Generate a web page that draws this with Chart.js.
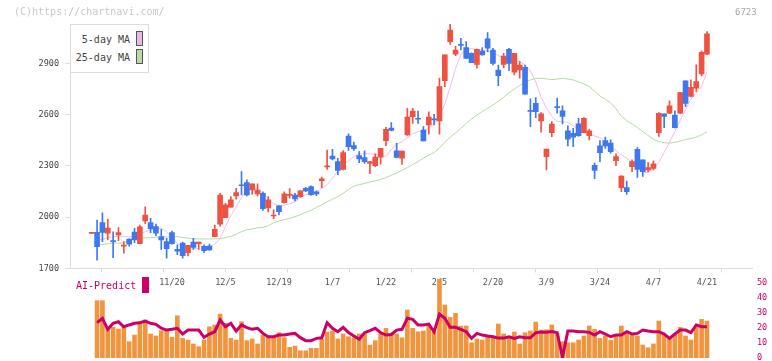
<!DOCTYPE html>
<html>
<head>
<meta charset="utf-8">
<script src="https://cdn.jsdelivr.net/npm/chart.js@4.4.1/dist/chart.umd.min.js"></script>
<style>
  body { margin: 0; background: #fff; width: 772px; height: 361px; position: relative; overflow: hidden; font-family: 'DejaVu Sans Mono', monospace; }
  canvas { position: absolute; left: 0; }
  #main { top: 0; }
  #sub { top: 270px; }
  .txt { position: absolute; white-space: nowrap; }
  .copy { left: 14px; top: 7px; font-size: 10px; line-height: 10px; color: #c8c8c8; }
  .code { left: 735px; top: 7px; font-size: 9px; line-height: 10px; color: #a8a8a8; }
  .legend { position: absolute; left: 70px; top: 24px; width: 77px; height: 47px; border: 1px solid #ddd; background: #fff; }
  .lg-t { position: absolute; right: 18px; font-size: 10px; line-height: 10px; color: #444; }
  .lg-b { position: absolute; left: 65px; width: 5px; height: 13px; border: 1px solid #555; }
  .ai { left: 76px; top: 281px; font-size: 10px; line-height: 10px; color: #cc0066; }
  .ai-box { position: absolute; left: 142px; top: 277px; width: 7px; height: 16px; background: #cc0066; }
</style>
</head>
<body>
<canvas id="main" width="772" height="300"></canvas>
<canvas id="sub" width="772" height="91"></canvas>
<div class="txt copy">(C)https://chartnavi.com/</div>
<div class="txt code">6723</div>
<div class="legend">
  <div class="lg-t" style="top:10px">5-day MA</div>
  <div class="lg-b" style="top:6px;background:#eab6ea"></div>
  <div class="lg-t" style="top:28px">25-day MA</div>
  <div class="lg-b" style="top:24px;background:#b6dca6"></div>
</div>
<div class="txt ai">AI-Predict</div>
<div class="ai-box"></div>
<script>
// trading days shown on the chart
const dates = [
  '10/29','10/30','10/31','11/4','11/5','11/6','11/7','11/10','11/11','11/12',
  '11/13','11/14','11/17','11/18','11/19','11/20','11/21','11/25','11/26','11/27',
  '11/28','12/1','12/2','12/3','12/4','12/5','12/8','12/9','12/10','12/11',
  '12/12','12/15','12/16','12/17','12/18','12/19','12/22','12/23','12/24','12/25',
  '12/26','12/29','12/30','1/5','1/6','1/7','1/8','1/9','1/13','1/14',
  '1/15','1/16','1/19','1/20','1/21','1/22','1/23','1/26','1/27','1/28',
  '1/29','1/30','2/2','2/3','2/4','2/5','2/6','2/9','2/10','2/12',
  '2/13','2/16','2/17','2/18','2/19','2/20','2/24','2/25','2/26','2/27',
  '3/2','3/3','3/4','3/5','3/6','3/9','3/10','3/11','3/12','3/13',
  '3/16','3/17','3/18','3/19','3/23','3/24','3/25','3/26','3/27','3/30',
  '3/31','4/1','4/2','4/3','4/6','4/7','4/8','4/9','4/10','4/13',
  '4/14','4/15','4/16','4/17','4/20','4/21'
];
const labelDays = ['11/20','12/5','12/19','1/7','1/22','2/5','2/20','3/9','3/24','4/7','4/21'];
const priceTicks = [1700, 2000, 2300, 2600, 2900];
const aiTicks = [0, 10, 20, 30, 40, 50];

const openP = [
  1905,1911,1968,1906,1859,1896,1830,1872,1913,1845,
  1978,1968,1945,1886,1857,1910,1812,1849,1793,1855,
  1845,1830,1831,1886,1960,1997,2058,2124,2190,2202,
  2159,2136,2140,2054,2007,2066,2085,2128,2130,2120,
  2169,2179,2148,2214,2294,2358,2325,2280,2475,2419,
  2360,2349,2315,2302,2351,2448,2522,2388,2345,2481,
  2588,2577,2510,2540,2573,2563,2799,3027,2953,3011,
  2992,2959,2894,2972,3043,2978,2861,2894,2982,2848,
  2861,2877,2623,2666,2563,2354,2495,2645,2622,2505,
  2491,2546,2495,2477,2304,2417,2448,2433,2331,2173,
  2173,2296,2397,2335,2276,2286,2495,2604,2608,2598,
  2608,2797,2706,2754,2838,2953
];
const highP = [
  1910,1983,2026,1989,1915,1939,1857,1874,1935,1954,
  2060,1993,1960,1929,1876,1919,1838,1855,1836,1876,
  1855,1839,1843,1954,2140,2081,2120,2169,2267,2218,
  2195,2195,2148,2120,2043,2066,2148,2167,2140,2156,
  2175,2183,2154,2234,2393,2397,2345,2390,2487,2440,
  2384,2388,2327,2370,2403,2526,2553,2432,2387,2637,
  2637,2621,2530,2617,2602,2813,2949,3130,3000,3046,
  3027,2962,2984,2992,3080,2988,2890,2959,2988,2959,
  2910,2890,2692,2699,2612,2399,2559,2696,2651,2534,
  2520,2579,2583,2514,2316,2448,2468,2452,2370,2243,
  2212,2335,2407,2335,2319,2329,2612,2604,2680,2622,
  2731,2797,2803,2891,2973,3086
];
const lowP = [
  1905,1749,1857,1867,1763,1863,1789,1831,1851,1845,
  1962,1910,1892,1812,1760,1843,1781,1760,1773,1812,
  1812,1793,1806,1884,1948,1997,2058,2105,2130,2124,
  2134,2124,2039,2031,1992,2013,2082,2111,2095,2115,
  2150,2128,2126,2173,2280,2335,2249,2277,2390,2390,
  2319,2315,2255,2296,2310,2419,2505,2347,2309,2479,
  2549,2549,2446,2485,2540,2485,2764,3011,2945,2978,
  2929,2904,2871,2947,2968,2890,2770,2875,2857,2832,
  2813,2719,2530,2582,2497,2276,2471,2608,2546,2417,
  2413,2472,2493,2452,2226,2325,2403,2374,2302,2150,
  2134,2267,2232,2238,2267,2276,2472,2524,2606,2522,
  2606,2647,2704,2735,2826,2951
];
const closeP = [
  1910,1827,1911,1937,1857,1910,1837,1843,1867,1943,
  2013,1933,1906,1867,1816,1845,1802,1775,1836,1824,
  1855,1804,1808,1929,2130,2072,2101,2144,2184,2130,
  2195,2159,2050,2101,2013,2033,2136,2134,2107,2154,
  2154,2132,2136,2224,2300,2341,2273,2378,2413,2401,
  2341,2325,2325,2351,2403,2514,2507,2349,2387,2586,
  2621,2573,2446,2586,2569,2764,2949,3095,2978,3004,
  2929,2904,2982,2949,2988,2900,2828,2943,2900,2959,
  2890,2719,2619,2617,2604,2399,2545,2641,2589,2456,
  2468,2477,2579,2505,2273,2378,2417,2384,2355,2241,
  2150,2325,2280,2267,2290,2312,2608,2589,2651,2524,
  2729,2666,2760,2793,2965,3072
];
const ma5 = [
  null,1865,1870,1880,1886,1888,1888,1885,1890,1900,
  1915,1925,1932,1935,1915,1880,1847,1825,1816,1815,
  1818,1822,1828,1843,1875,1945,2010,2060,2115,2160,
  2170,2165,2140,2105,2080,2066,2070,2078,2090,2115,
  2132,2140,2150,2168,2190,2230,2270,2300,2330,2355,
  2370,2372,2370,2368,2365,2355,2395,2428,2440,2465,
  2490,2500,2505,2520,2545,2590,2660,2760,2870,2950,
  2985,2985,2980,2978,2972,2960,2945,2932,2920,2915,
  2910,2890,2855,2790,2700,2640,2590,2560,2558,2555,
  2535,2515,2500,2490,2475,2465,2440,2410,2390,2365,
  2345,2320,2300,2262,2262,2285,2320,2378,2440,2500,
  2565,2630,2690,2725,2765,2852
];
const ma25 = [
  null,1838,1840,1845,1849,1849,1849,1865,1879,1879,
  1879,1880,1883,1885,1885,1885,1885,1882,1878,1873,
  1873,1873,1873,1873,1874,1880,1888,1900,1915,1926,
  1932,1937,1941,1950,1968,1978,1986,1993,2003,2015,
  2028,2040,2058,2072,2090,2105,2120,2140,2162,2182,
  2190,2198,2206,2213,2220,2232,2245,2258,2275,2290,
  2308,2325,2345,2362,2378,2405,2438,2468,2493,2520,
  2548,2575,2598,2618,2637,2657,2678,2702,2728,2750,
  2770,2790,2803,2812,2812,2809,2805,2808,2813,2808,
  2803,2792,2780,2764,2738,2709,2690,2668,2635,2590,
  2565,2545,2525,2500,2478,2455,2443,2436,2433,2438,
  2445,2455,2460,2468,2482,2501
];
const volume = [
  null,38,38,19.7,20.3,19.2,20.3,10.8,15.2,24,
  25.2,15.9,14.6,18.1,19.2,13.7,28,13,11.9,9.3,
  7.5,11.9,20.7,21.9,29.1,23,13,11.9,24,11.5,
  12.6,9.3,15.2,13.7,13.7,16.8,13.4,7.1,7.9,4.8,
  4.8,6.4,6.4,12.4,17.2,17.9,12.6,15.9,14.1,13.4,
  15.9,15.9,8.6,11.5,15.9,19.7,16.3,15.9,13.4,31.8,
  19.7,17.4,17.9,21.9,17.4,52.3,35.1,26.9,29.6,21.2,
  21.2,10.1,12.6,11.9,14.6,14.6,22.5,15.9,13.4,17.2,
  9.3,16.8,17.9,23.8,18.5,18.7,21.9,16.3,10.8,10.1,
  10.1,11.9,14.6,21.2,19,13,14.6,11.9,15.2,21.2,
  16.8,15.2,14.6,8.6,6.8,9.3,24.5,15.2,13,15.2,
  20.3,14.6,11.9,20.7,25.6,24.5
];
const aiPredict = [
  null,23.4,26.3,19,23,24,20.7,21.9,23,23.4,
  24.5,23,22.3,19.7,18.5,19,19.7,15.9,18.5,18.5,
  18.5,13.7,15.9,17.4,25.2,20.7,23,17.9,21.9,20.1,
  19,19.7,16.3,14.1,14.1,15.2,15.2,15.9,16.3,13.5,
  11.5,11.5,13,13.4,23.4,19.7,17.4,20.3,16.8,14.6,
  12.4,16.8,18.1,19.7,16.8,15.2,15.6,18.5,19,26.3,
  25.6,21.9,21.9,22.5,17.4,29.1,26.3,20.3,20.3,19,
  17.4,13,16.3,15.2,14.6,14.1,13.2,13.2,14.1,13,
  14.1,13.4,13.4,16.8,17.2,17,17.6,16.8,0.5,17.9,
  17.9,17.4,17.4,17,15.2,17.4,15.9,14.1,15.2,15.2,
  17.4,15.9,16.3,18.5,17.9,17.4,17.4,15.9,13,15.9,
  18.5,18.5,16.8,21.9,20.7,20.7
];

const upColor = '#f05241';
const downColor = '#3f78ee';
const axisColor = '#dcdcdc';
// x range in candle units (plot is wider than the candles)
const xMin = -4.06, xMax = 123.42;

Chart.defaults.font.family = "'DejaVu Sans Mono', monospace";

const candleColors = closeP.map((c, i) => c >= openP[i] ? upColor : downColor);
const bodies = openP.map((o, i) => ({ x: i, y: [o, closeP[i]] }));
const wicks = lowP.map((l, i) => ({ x: i, y: [l, highP[i]] }));
const pts = arr => arr.map((v, i) => ({ x: i, y: v }));

new Chart(document.getElementById('main'), {
  type: 'bar',
  data: {
    datasets: [
      { data: bodies, backgroundColor: candleColors, barThickness: 5, grouped: false, minBarLength: 1, xAxisID: 'x', yAxisID: 'y' },
      { data: wicks, backgroundColor: candleColors, barThickness: 1, grouped: false, xAxisID: 'x', yAxisID: 'y' },
      { type: 'line', data: pts(ma5), borderColor: '#efbcef', borderWidth: 1, pointRadius: 0, pointHoverRadius: 0, xAxisID: 'x', yAxisID: 'y' },
      { type: 'line', data: pts(ma25), borderColor: '#b4dba4', borderWidth: 1, pointRadius: 0, pointHoverRadius: 0, xAxisID: 'x', yAxisID: 'y' }
    ]
  },
  options: {
    responsive: false,
    animation: false,
    layout: { padding: { left: 0, right: 20, top: 24, bottom: 0 } },
    plugins: { legend: { display: false }, tooltip: { enabled: false } },
    scales: {
      xg: {
        type: 'linear', position: 'bottom', weight: 0, min: xMin, max: xMax, offset: false,
        afterBuildTicks: s => { s.ticks = Array.from({ length: 12 }, (_, k) => ({ value: xMin + k * (xMax - xMin) / 11 })); },
        afterFit: s => { s.height = 0; },
        ticks: { display: false },
        grid: { drawOnChartArea: false, tickLength: 4, color: axisColor },
        border: { color: axisColor }
      },
      x: {
        type: 'linear', position: 'bottom', weight: 1, min: xMin, max: xMax, offset: false,
        afterBuildTicks: s => { s.ticks = labelDays.map(d => ({ value: dates.indexOf(d) })); },
        afterFit: s => { s.height = 31.5; },
        ticks: { callback: v => dates[v], padding: 9, color: '#555', font: { size: 8.5 }, maxRotation: 0, autoSkip: false },
        grid: { display: false, drawTicks: false },
        border: { display: false }
      },
      y: {
        position: 'left', min: 1700, max: 3130,
        afterBuildTicks: s => { s.ticks = priceTicks.map(v => ({ value: v })); },
        afterFit: s => { s.width = 70; },
        ticks: { callback: v => String(v), padding: 6, color: '#444', font: { size: 8.5 } },
        grid: { drawOnChartArea: false, tickLength: 5, color: axisColor },
        border: { color: axisColor }
      }
    }
  }
});

new Chart(document.getElementById('sub'), {
  type: 'bar',
  data: {
    datasets: [
      { type: 'line', data: pts(aiPredict), borderColor: '#cc0066', borderWidth: 3, pointRadius: 0, pointHoverRadius: 0, xAxisID: 'x', yAxisID: 'y' },
      { data: pts(volume), backgroundColor: '#f0953e', barThickness: 4, grouped: false, xAxisID: 'x', yAxisID: 'y' }
    ]
  },
  options: {
    responsive: false,
    animation: false,
    layout: { autoPadding: false, padding: { left: 70, right: 0, top: 5, bottom: 3 } },
    plugins: { legend: { display: false }, tooltip: { enabled: false } },
    scales: {
      x: { type: 'linear', display: false, min: xMin, max: xMax, offset: false },
      y: {
        position: 'right', min: 0, max: 55,
        afterBuildTicks: s => { s.ticks = aiTicks.map(v => ({ value: v })); },
        afterFit: s => { s.width = 20; s.paddingTop = 0; s.paddingBottom = 0; },
        ticks: { padding: 5, color: '#cc0066', font: { size: 8.5 } },
        grid: { display: false, drawTicks: false },
        border: { display: false }
      }
    }
  }
});
</script>
</body>
</html>
